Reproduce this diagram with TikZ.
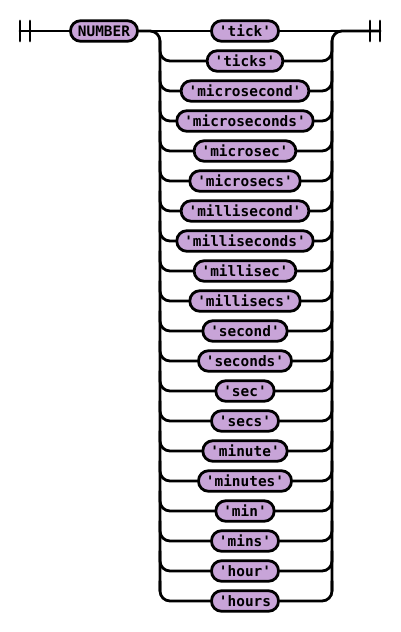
\documentclass[tikz,border=0pt]{standalone}
\usepackage{fontspec}
\setmonofont{DejaVu Sans Mono}
\usetikzlibrary{calc}
\definecolor{lav}{HTML}{C8A4D8}
\begin{document}
\begin{tikzpicture}[x=1pt,y=-1pt,
  rail/.style={line width=2.8pt,line cap=round},
  term/.style={draw,line width=2.8pt,fill=lav,rounded corners=10pt,
    minimum height=20.5pt,inner xsep=7.5pt,inner ysep=0pt,
    text height=10.5pt,text depth=0pt,
    font=\ttfamily\bfseries\fontsize{14.4}{15}\selectfont}]
\useasboundingbox (0,0) rectangle (401,632);
\coordinate (L) at (160,31);
\coordinate (R) at (332,31);
\coordinate (S) at (20,31);
\coordinate (E) at (380,31);
\node[term] (num) at (104,31) {NUMBER};
\foreach \t [count=\k] in {'tick','ticks','microsecond','microseconds','microsec','microsecs','millisecond','milliseconds','millisec','millisecs','second','seconds','sec','secs','minute','minutes','min','mins','hour','hours}{
  \node[term] (t\k) at (245,{31+30*(\k-1)}) {\t};
}
% start mark
\draw[rail] (20,21) -- (20,41);
\draw[rail] (30,21) -- (30,41);
\draw[rail] (S) -- (num.west);
% end mark
\draw[rail] (370,21) -- (370,41);
\draw[rail] (380,21) -- (380,41);
% first alternative
\draw[rail] (num.east) -- (t1.west);
\draw[rail] (t1.east) -- (E);
% rails
\draw[rail,rounded corners=10pt] (num.east) -| ($(L)+(0,560)$);
\draw[rail,rounded corners=10pt] ($(R)+(0,560)$) |- (E);
\foreach \k in {2,...,20}{
  \draw[rail,rounded corners=10pt] ($(t\k.west -| L)+(0,-20)$) |- (t\k.west);
  \draw[rail,rounded corners=10pt] (t\k.east) -| ($(t\k.east -| R)+(0,-20)$);
}
\end{tikzpicture}
\end{document}
